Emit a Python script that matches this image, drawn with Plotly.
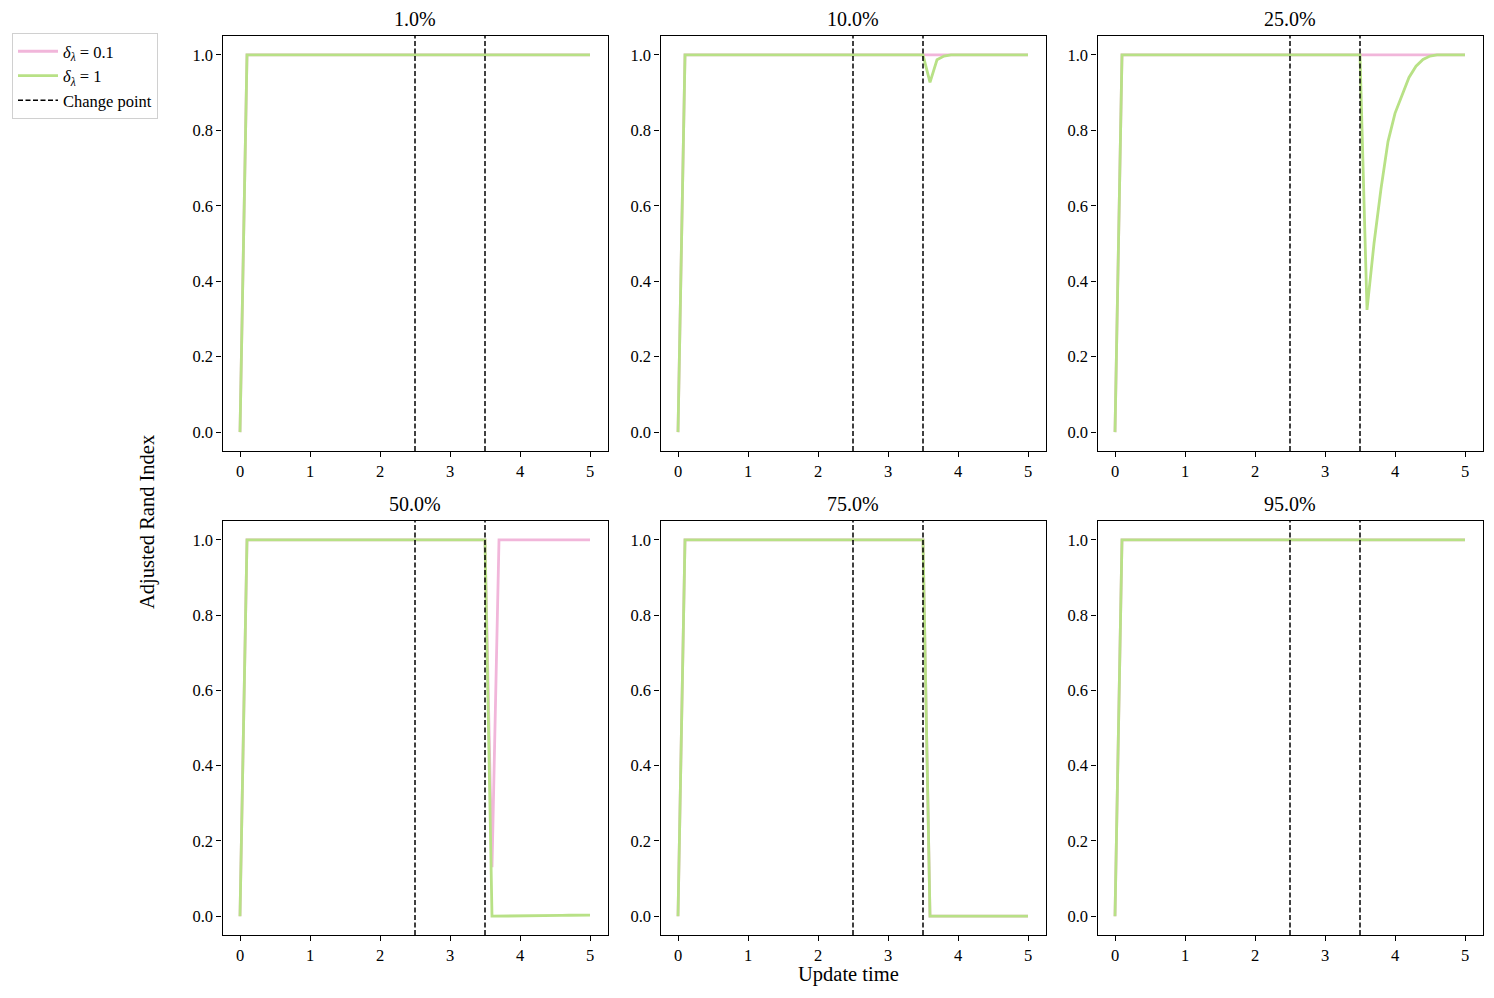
import plotly.graph_objects as go
from plotly.subplots import make_subplots

# ---------------- data ----------------
time = [0.0, 0.1, 0.2, 0.3, 0.4, 0.5, 0.6, 0.7, 0.8, 0.9,
        1.0, 1.1, 1.2, 1.3, 1.4, 1.5, 1.6, 1.7, 1.8, 1.9,
        2.0, 2.1, 2.2, 2.3, 2.4, 2.5, 2.6, 2.7, 2.8, 2.9,
        3.0, 3.1, 3.2, 3.3, 3.4, 3.5, 3.6, 3.7, 3.8, 3.9,
        4.0, 4.1, 4.2, 4.3, 4.4, 4.5, 4.6, 4.7, 4.8, 4.9, 5.0]

panel_titles = ["1.0%", "10.0%", "25.0%", "50.0%", "75.0%", "95.0%"]
change_points = [2.5, 3.5]
series_names = ["<i>δ</i><sub><i>λ</i></sub> = 0.1", "<i>δ</i><sub><i>λ</i></sub> = 1"]

# values for t = 0.0 .. 3.5 (36 points): 0 then 1.0
start = [0.0] + [1.0] * 35

# values for t = 3.6 .. 5.0 (15 points)
ari_01_p1 = start + [1.0] * 15
ari_1_p1 = start + [1.0] * 15

ari_01_p10 = start + [1.0] * 15
ari_1_p10 = start + [0.927, 0.987, 0.997, 1.0, 1.0, 1.0, 1.0, 1.0,
                     1.0, 1.0, 1.0, 1.0, 1.0, 1.0, 1.0]

ari_01_p25 = start + [1.0] * 15
ari_1_p25 = start + [0.324, 0.50, 0.645, 0.77, 0.845, 0.895, 0.94, 0.97,
                     0.988, 0.997, 1.0, 1.0, 1.0, 1.0, 1.0]

ari_01_p50 = start + [0.13, 1.0, 1.0, 1.0, 1.0, 1.0, 1.0, 1.0,
                      1.0, 1.0, 1.0, 1.0, 1.0, 1.0, 1.0]
ari_1_p50 = start + [0.0, 0.0, 0.0, 0.0005, 0.0005, 0.001, 0.001, 0.0015,
                     0.0015, 0.002, 0.002, 0.0025, 0.0025, 0.003, 0.003]

ari_01_p75 = start + [0.0] * 15
ari_1_p75 = start + [0.0] * 15

ari_01_p95 = start + [1.0] * 15
ari_1_p95 = start + [1.0] * 15

pink_series = [ari_01_p1, ari_01_p10, ari_01_p25, ari_01_p50, ari_01_p75, ari_01_p95]
green_series = [ari_1_p1, ari_1_p10, ari_1_p25, ari_1_p50, ari_1_p75, ari_1_p95]

# ---------------- style ----------------
OFF = 8                      # page body margin
W, H = 1494 - 2 * OFF, 998 - 2 * OFF
PINK = "#f1b6da"
GREEN = "#b8e186"
FONT = "Liberation Serif"
DASH = "5px,2.5px"


def px(xp):
    return (xp - OFF) / W


def py(yp):
    return 1 - (yp - OFF) / H


col_px = [(222.5, 607.5), (660.5, 1045.5), (1097.5, 1482.5)]
row_px = [(36, 451), (521, 935)]

fig = make_subplots(rows=2, cols=3)

for i in range(6):
    r, c = divmod(i, 3)
    fig.add_trace(go.Scatter(x=time, y=pink_series[i], mode="lines",
                             line=dict(color=PINK, width=2.8),
                             name=series_names[0], legendgroup="a",
                             showlegend=(i == 0)), row=r + 1, col=c + 1)
    fig.add_trace(go.Scatter(x=time, y=green_series[i], mode="lines",
                             line=dict(color=GREEN, width=2.8),
                             name=series_names[1], legendgroup="b",
                             showlegend=(i == 0)), row=r + 1, col=c + 1)

fig.add_trace(go.Scatter(x=[None], y=[None], mode="lines",
                         line=dict(color="black", width=1.5, dash=DASH),
                         name="Change point", showlegend=True), row=1, col=1)

shapes = []
annotations = []
for i in range(6):
    r, c = divmod(i, 3)
    n = "" if i == 0 else str(i + 1)
    x0p, x1p = col_px[c]
    t0p, b0p = row_px[r]
    fig.layout["xaxis" + n].update(
        domain=[px(x0p), px(x1p)], range=[-0.25, 5.25], dtick=1, tick0=0,
        showline=True, mirror=True, linecolor="black", linewidth=1.2,
        ticks="outside", ticklen=5, tickwidth=1.2, tickcolor="black",
        showgrid=False, zeroline=False,
        tickfont=dict(family=FONT, size=16.5, color="black"))
    fig.layout["yaxis" + n].update(
        domain=[py(b0p), py(t0p)], range=[-0.05, 1.05], dtick=0.2, tick0=0,
        tickformat=".1f",
        showline=True, mirror=True, linecolor="black", linewidth=1.2,
        ticks="outside", ticklen=5, tickwidth=1.2, tickcolor="black",
        showgrid=False, zeroline=False,
        tickfont=dict(family=FONT, size=16.5, color="black"))
    for cp in change_points:
        shapes.append(dict(type="line", xref="x" + n, yref="y" + n + " domain",
                           x0=cp, x1=cp, y0=0, y1=1,
                           line=dict(color="black", width=1.5, dash=DASH)))
    annotations.append(dict(text=panel_titles[i], xref="paper", yref="paper",
                            x=px((x0p + x1p) / 2), y=py(t0p - 17),
                            xanchor="center", yanchor="middle", showarrow=False,
                            font=dict(family=FONT, size=20, color="black")))

annotations.append(dict(text="Update time", xref="paper", yref="paper",
                        x=px(848), y=py(974), xanchor="center", yanchor="middle",
                        showarrow=False, font=dict(family=FONT, size=20.5, color="black")))
annotations.append(dict(text="Adjusted Rand Index", xref="paper", yref="paper",
                        x=px(147), y=py(522), xanchor="center", yanchor="middle",
                        textangle=-90, showarrow=False,
                        font=dict(family=FONT, size=20.5, color="black")))

fig.update_layout(
    width=W, height=H,
    margin=dict(l=0, r=0, t=0, b=0),
    paper_bgcolor="white", plot_bgcolor="white",
    shapes=shapes, annotations=annotations,
    showlegend=True,
    legend=dict(x=px(12), y=py(33), xanchor="left", yanchor="top",
                bgcolor="white", bordercolor="#d0d0d0", borderwidth=1,
                font=dict(family=FONT, size=16.5, color="black"),
                itemwidth=40, tracegroupgap=0),
)

fig.write_html("out.html")
